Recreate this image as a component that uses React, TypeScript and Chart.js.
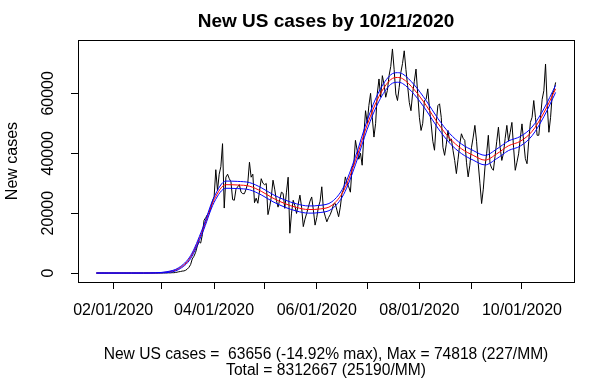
import React, { useEffect, useRef } from 'react';
import { Chart, registerables } from 'chart.js';

Chart.register(...registerables);

// Day 0 = 01/22/2020, last day (273) = 10/21/2020
const dailyCases = [
  1, 0, 1, 0, 3, 0, 0, 0, 0, 2,
  1, 0, 3, 0, 0, 1, 0, 0, 0, 0,
  1, 0, 1, 0, 0, 0, 0, 0, 0, 0,
  2, 0, 0, 0, 0, 0, 1, 0, 8, 7,
  23, 20, 31, 68, 45, 120, 110, 180, 290, 420,
  500, 650, 700, 900, 1300, 1900, 2800, 4700, 5600, 6900,
  9000, 10500, 10000, 12800, 17600, 18500, 19500, 20200, 21700, 24000,
  25500, 34500, 27500, 33000, 35500, 43200, 21700, 32000, 33000, 31500,
  30500, 24500, 24300, 28000, 28800, 29500, 27000, 26500, 26500, 28000,
  30000, 37000, 32000, 33000, 23500, 25000, 23300, 27500, 31500, 30000,
  29500, 29900, 19500, 22000, 25500, 31000, 28000, 24300, 22000, 24500,
  27000, 26600, 21600, 27000, 32000, 13300, 20000, 24300, 22500, 19900,
  23000, 26000, 22000, 15500, 18000, 19900, 22000, 24000, 25400, 21000,
  16000, 18500, 22100, 24000, 28800, 21000, 19000, 17100, 18500, 19500,
  21000, 23000, 23200, 21000, 18800, 22000, 26600, 28000, 32100, 30000,
  28800, 27000, 35400, 36000, 44300, 41000, 38000, 40000, 36000, 46000,
  54200, 50000, 56000, 60000, 52000, 45400, 50000, 60000, 64800, 58700,
  65900, 63000, 58700, 61000, 66000, 69000, 74818, 68000, 59800, 57600,
  62000, 67000, 70000, 74200, 68000, 62600, 57000, 54200, 60000, 64000,
  68100, 60000, 52000, 47600, 50000, 57600, 58000, 61500, 55000, 49800,
  44000, 41000, 50000, 55900, 56500, 52000, 42000, 39300, 43000, 47600,
  44000, 44800, 41000, 37600, 33200, 38000, 43000, 46500, 45000, 44300,
  37000, 32100, 36000, 42000, 45400, 49300, 44000, 36500, 30000, 23200,
  28000, 35400, 40000, 46000, 36500, 35000, 34300, 39000, 44000, 48700,
  42000, 37600, 40000, 45000, 49300, 44000, 47000, 50300, 42000, 34300,
  37000, 39800, 45000, 49800, 44000, 38200, 36500, 44000, 50300, 52000,
  57600, 52000, 46000, 46000, 52000, 58000, 60900, 69800, 56000, 47000,
  52000, 59800, 61000, 63656,
];

const smoothDays = [
  0, 7, 14, 21, 28, 35, 42, 49, 56, 63, 70, 77, 84, 91, 98, 105, 112, 119, 126, 133,
  140, 147, 154, 161, 168, 175, 179, 182, 189, 196, 203, 210, 217, 224, 231, 238, 245, 252, 259, 266, 273,
];
const smoothCases = [
  0, 0, 0, 0, 0, 50, 300, 1500, 5300, 14000, 24500, 29500, 29400, 29000, 27300, 25000, 23200, 21900, 21200, 21400,
  22600, 27500, 37500, 49500, 59000, 64600, 65300, 64900, 61200, 56000, 50000, 45000, 41500, 39300, 37700, 39800, 42500, 44000, 47300, 53500, 61500,
];
const upperBand = [
  0, 0, 0, 0, 0, 90, 450, 1800, 5800, 14700, 25400, 30700, 30600, 30200, 28500, 26200, 24400, 23100, 22400, 22600,
  23800, 28750, 38850, 51000, 60600, 66200, 66900, 66500, 62800, 57600, 51600, 46600, 43100, 40900, 39300, 41400, 44100, 45600, 48750, 54800, 62700,
];
const lowerBand = [
  0, 0, 0, 0, 0, 10, 150, 1200, 4800, 13300, 23600, 28300, 28200, 27800, 26100, 23800, 22000, 20700, 20000, 20200,
  21400, 26250, 36150, 48000, 57400, 63000, 63700, 63300, 59600, 54400, 48400, 43400, 39900, 37700, 36100, 38200, 40900, 42400, 45850, 52200, 60300,
];

const monthTickDays = [10, 39, 70, 100, 131, 161, 192, 223, 253];
const monthTickLabels = ['02/01/2020', '', '04/01/2020', '', '06/01/2020', '', '08/01/2020', '', '10/01/2020'];
const yTickValues = [0, 20000, 40000, 60000];

const titleText = 'New US cases by 10/21/2020';
const yAxisTitle = 'New cases';
const footerLines = [
  'New US cases =  63656 (-14.92% max), Max = 74818 (227/MM)',
  'Total = 8312667 (25190/MM)',
];

const FONT = '"Liberation Sans", Arial, Helvetica, sans-serif';

const textPlugin = {
  id: 'rStyleText',
  afterDraw(chart: any) {
    const { ctx, chartArea: a, scales } = chart;
    const x = scales.x;
    const y = scales.y;
    ctx.save();
    ctx.strokeStyle = '#000';
    ctx.lineWidth = 1;
    ctx.strokeRect(Math.round(a.left) + 0.5, Math.round(a.top) + 0.5, Math.round(a.right - a.left), Math.round(a.bottom - a.top));
    ctx.fillStyle = '#000';
    const cx = (a.left + a.right) / 2;
    ctx.textAlign = 'center';
    ctx.textBaseline = 'alphabetic';
    ctx.font = 'bold 19px ' + FONT;
    ctx.fillText(titleText, cx, 27);
    ctx.font = '16px ' + FONT;
    ctx.textBaseline = 'middle';
    monthTickDays.forEach((d, i) => {
      if (monthTickLabels[i]) ctx.fillText(monthTickLabels[i], x.getPixelForValue(d), 311);
    });
    yTickValues.forEach((v) => {
      ctx.save();
      ctx.translate(49, y.getPixelForValue(v));
      ctx.rotate(-Math.PI / 2);
      ctx.fillText(String(v), 0, 0);
      ctx.restore();
    });
    ctx.save();
    ctx.translate(13, (a.top + a.bottom) / 2);
    ctx.rotate(-Math.PI / 2);
    ctx.fillText(yAxisTitle, 0, 0);
    ctx.restore();
    ctx.font = '15.6px ' + FONT;
    ctx.fillText(footerLines[0], cx, 355);
    ctx.fillText(footerLines[1], cx, 371);
    ctx.restore();
  },
};

export default function App() {
  const ref = useRef<HTMLCanvasElement>(null);
  useEffect(() => {
    document.body.style.margin = '0';
    const yMax = Math.max(...dailyCases);
    const pad = yMax * 0.04;
    const lastDay = dailyCases.length - 1;
    const xPad = lastDay * 0.04;
    const chart = new Chart(ref.current as HTMLCanvasElement, {
      type: 'line',
      data: {
        datasets: [
          {
            label: 'daily',
            data: dailyCases.map((v, i) => ({ x: i, y: v })),
            borderColor: '#000000',
            borderWidth: 1,
            pointRadius: 0,
            tension: 0,
            order: 4,
          },
          {
            label: 'smooth',
            data: smoothDays.map((d, i) => ({ x: d, y: smoothCases[i] })),
            borderColor: '#ff0000',
            borderWidth: 1,
            pointRadius: 0,
            cubicInterpolationMode: 'monotone',
            order: 3,
          },
          {
            label: 'upper',
            data: smoothDays.map((d, i) => ({ x: d, y: upperBand[i] })),
            borderColor: '#0000ff',
            borderWidth: 1,
            pointRadius: 0,
            cubicInterpolationMode: 'monotone',
            order: 2,
          },
          {
            label: 'lower',
            data: smoothDays.map((d, i) => ({ x: d, y: lowerBand[i] })),
            borderColor: '#0000ff',
            borderWidth: 1,
            pointRadius: 0,
            cubicInterpolationMode: 'monotone',
            order: 1,
          },
        ],
      },
      options: {
        responsive: false,
        animation: false,
        events: [],
        layout: { padding: { left: 0, right: 41, top: 40, bottom: 0 } },
        plugins: { legend: { display: false }, tooltip: { enabled: false }, title: { display: false } },
        scales: {
          x: {
            type: 'linear',
            min: -xPad,
            max: lastDay + xPad,
            afterBuildTicks: (s: any) => {
              s.ticks = monthTickDays.map((v) => ({ value: v }));
            },
            afterFit: (s: any) => {
              s.height = 98;
            },
            ticks: { display: false },
            grid: { display: true, drawOnChartArea: false, drawTicks: true, tickLength: 7, color: '#000', lineWidth: 1 },
            border: { display: false },
          },
          y: {
            type: 'linear',
            min: -pad,
            max: yMax + pad,
            afterBuildTicks: (s: any) => {
              s.ticks = yTickValues.map((v) => ({ value: v }));
            },
            afterFit: (s: any) => {
              s.width = 78;
            },
            ticks: { display: false },
            grid: { display: true, drawOnChartArea: false, drawTicks: true, tickLength: 7, color: '#000', lineWidth: 1 },
            border: { display: false },
          },
        },
      },
      plugins: [textPlugin],
    } as any);
    return () => chart.destroy();
  }, []);
  return (
    <div style={{ width: 615, height: 380, background: '#fff' }}>
      <canvas ref={ref} width={615} height={380} style={{ display: 'block' }} />
    </div>
  );
}
